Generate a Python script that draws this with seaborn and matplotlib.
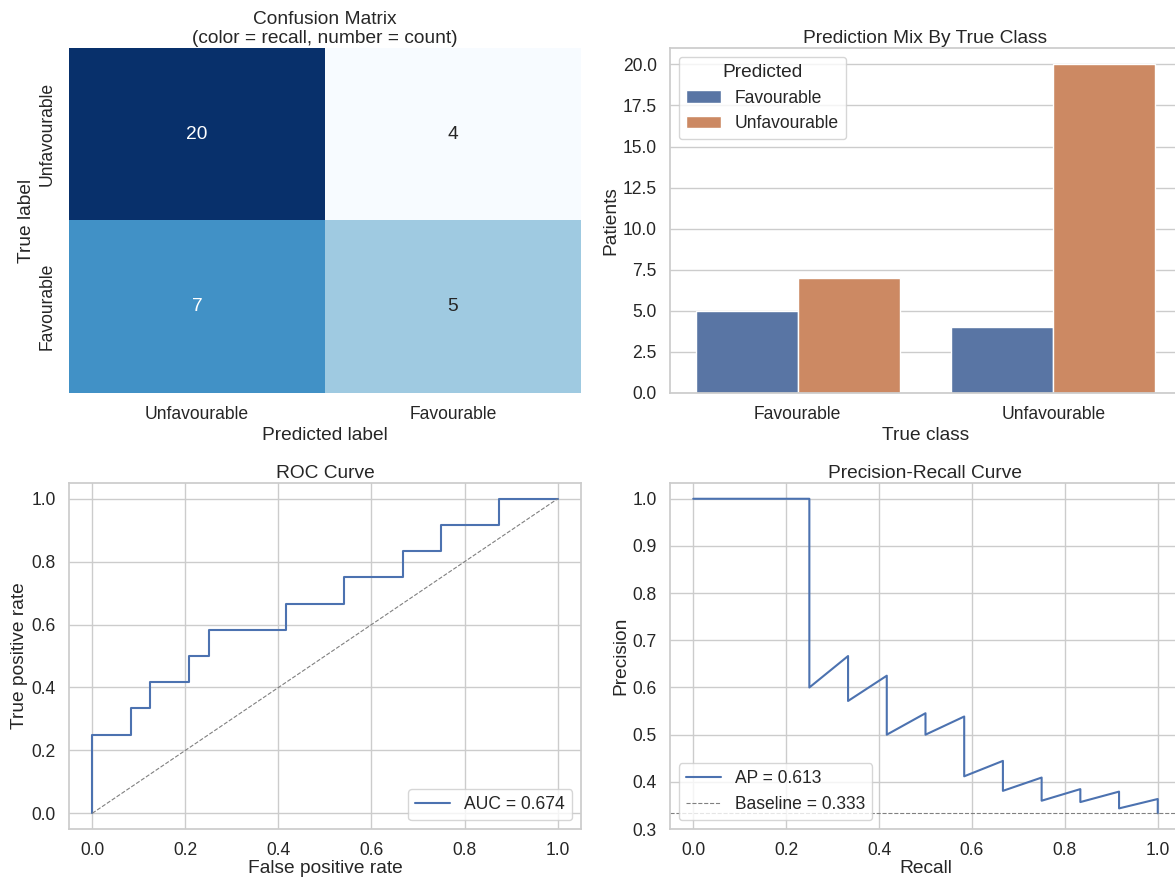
import numpy as np
import pandas as pd
import matplotlib
matplotlib.use("Agg")
import matplotlib.pyplot as plt
import seaborn as sns

# ---- data -------------------------------------------------------------
class_labels = ["Unfavourable", "Favourable"]          # heatmap row/col order
cm_counts = [[20, 4],                                   # true Unfavourable
             [7, 5]]                                    # true Favourable

bar_true = ["Favourable", "Favourable", "Unfavourable", "Unfavourable"]
bar_pred = ["Favourable", "Unfavourable", "Favourable", "Unfavourable"]
bar_count = [5, 7, 4, 20]

n_pos = 12   # Favourable patients (positive class)
n_neg = 24   # Unfavourable patients

# ROC corner points as cumulative false / true positive counts
roc_fp = [0, 0, 2, 2, 3, 3, 5, 5, 6, 6, 10, 10, 13, 13, 16, 16, 18, 18, 21, 21, 24]
roc_tp = [0, 3, 3, 4, 4, 5, 5, 6, 6, 7, 7, 8, 8, 9, 9, 10, 10, 11, 11, 12, 12]

# precision-recall thresholds as cumulative true / false positive counts
pr_tp = [3, 3, 3, 4, 4, 5, 5, 5, 6, 6, 7, 7, 7, 7, 7, 8, 8, 8, 8,
         9, 9, 9, 9, 10, 10, 10, 11, 11, 11, 11, 12, 12, 12, 12]
pr_fp = [0, 1, 2, 2, 3, 3, 4, 5, 5, 6, 6, 7, 8, 9, 10, 10, 11, 12, 13,
         13, 14, 15, 16, 16, 17, 18, 18, 19, 20, 21, 21, 22, 23, 24]

# ---- derived curves ---------------------------------------------------
cm = np.array(cm_counts)
recall_matrix = cm / cm.sum(axis=1, keepdims=True)

fpr = np.array(roc_fp) / n_neg
tpr = np.array(roc_tp) / n_pos
auc = np.trapezoid(tpr, fpr)

tp = np.array(pr_tp, dtype=float)
fp = np.array(pr_fp, dtype=float)
recall = np.concatenate([[0.0], tp / n_pos])
precision = np.concatenate([[1.0], tp / (tp + fp)])
ap = np.sum(np.diff(recall) * precision[1:])
baseline = n_pos / (n_pos + n_neg)

# ---- style ------------------------------------------------------------
sns.set_theme(style="whitegrid", font_scale=1.15)
plt.rcParams["font.family"] = ["Liberation Sans", "DejaVu Sans"]
plt.rcParams["axes.titlepad"] = 3.5
plt.rcParams["axes.labelpad"] = 2.5

fig = plt.figure(figsize=(11.75, 8.77), dpi=100)
ax_cm = fig.add_axes([0.0587, 0.5519, 0.4357, 0.3934])
ax_bar = fig.add_axes([0.5702, 0.5519, 0.4349, 0.3934])
ax_roc = fig.add_axes([0.0587, 0.0547, 0.4357, 0.3945])
ax_pr = fig.add_axes([0.5702, 0.0547, 0.4349, 0.3945])

# confusion matrix: colour by recall, annotate with counts
sns.heatmap(recall_matrix, annot=cm, fmt="d", cmap="Blues", cbar=False,
            xticklabels=class_labels, yticklabels=class_labels, ax=ax_cm)
ax_cm.set_title("Confusion Matrix\n(color = recall, number = count)")
ax_cm.set_xlabel("Predicted label")
ax_cm.set_ylabel("True label")

# grouped bars
mix = pd.DataFrame({"True class": bar_true, "Predicted": bar_pred,
                    "Patients": bar_count})
sns.barplot(data=mix, x="True class", y="Patients", hue="Predicted",
            order=["Favourable", "Unfavourable"],
            hue_order=["Favourable", "Unfavourable"], ax=ax_bar)
ax_bar.set_title("Prediction Mix By True Class")
ax_bar.legend(title="Predicted", loc="upper left")

# ROC curve
roc_df = pd.DataFrame({"fpr": fpr, "tpr": tpr})
sns.lineplot(data=roc_df, x="fpr", y="tpr", estimator=None, sort=False,
             label=f"AUC = {auc:.3f}", ax=ax_roc)
ax_roc.plot([0, 1], [0, 1], linestyle="--", color="gray", linewidth=0.8)
ax_roc.set_title("ROC Curve")
ax_roc.set_xlabel("False positive rate", labelpad=0.5)
ax_roc.set_ylabel("True positive rate")
ax_roc.legend(loc="lower right")

# precision-recall curve
pr_df = pd.DataFrame({"recall": recall, "precision": precision})
sns.lineplot(data=pr_df, x="recall", y="precision", estimator=None, sort=False,
             label=f"AP = {ap:.3f}", ax=ax_pr)
ax_pr.axhline(baseline, linestyle="--", color="gray", linewidth=0.8,
              label=f"Baseline = {baseline:.3f}")
ax_pr.set_title("Precision-Recall Curve")
ax_pr.set_xlabel("Recall", labelpad=0.5)
ax_pr.set_ylabel("Precision")
ax_pr.legend(loc="lower left")

fig.savefig("out.png", dpi=100)
